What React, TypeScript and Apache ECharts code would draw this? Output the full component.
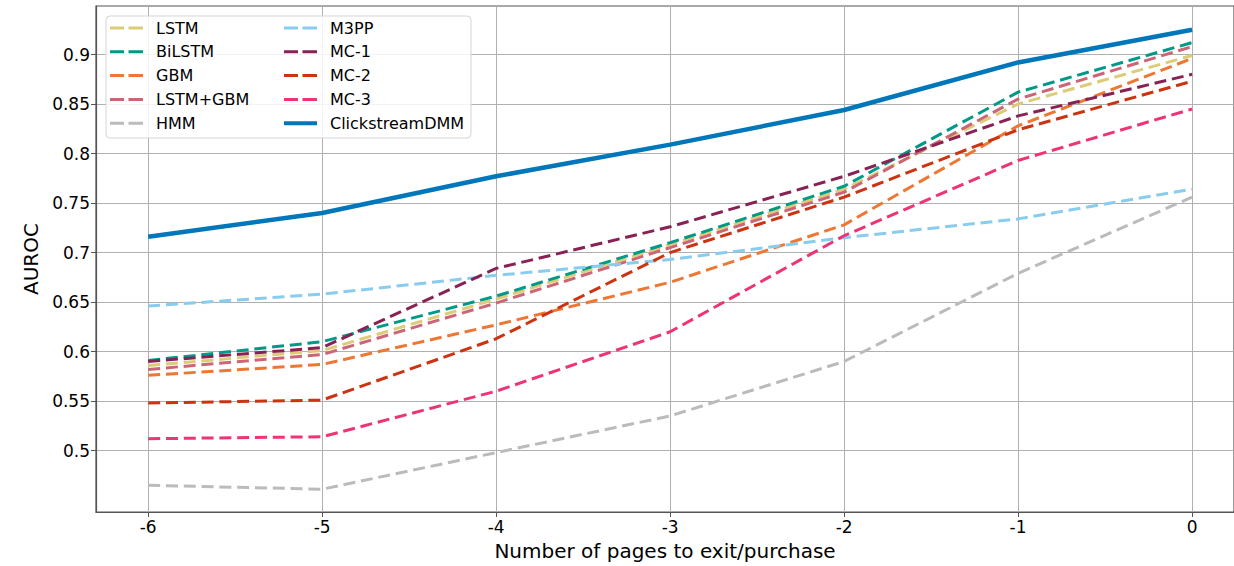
import React, { useEffect, useRef } from "react";
import * as echarts from "echarts";

const xValues = [-6, -5, -4, -3, -2, -1, 0];
const yTicks = [0.5, 0.55, 0.6, 0.65, 0.7, 0.75, 0.8, 0.85, 0.9];

const seriesNames = ["LSTM", "BiLSTM", "GBM", "LSTM+GBM", "HMM", "M3PP", "MC-1", "MC-2", "MC-3", "ClickstreamDMM"];
const lstm = [0.586, 0.601, 0.653, 0.708, 0.764, 0.850, 0.899];
const bilstm = [0.591, 0.610, 0.656, 0.710, 0.767, 0.862, 0.912];
const gbm = [0.576, 0.587, 0.627, 0.670, 0.728, 0.828, 0.896];
const lstmGbm = [0.582, 0.597, 0.649, 0.705, 0.761, 0.855, 0.908];
const hmm = [0.465, 0.461, 0.498, 0.535, 0.590, 0.679, 0.756];
const m3pp = [0.646, 0.658, 0.677, 0.693, 0.715, 0.734, 0.764];
const mc1 = [0.590, 0.604, 0.684, 0.726, 0.777, 0.838, 0.880];
const mc2 = [0.548, 0.551, 0.613, 0.700, 0.756, 0.824, 0.873];
const mc3 = [0.512, 0.514, 0.560, 0.620, 0.717, 0.793, 0.845];
const clickstreamDmm = [0.716, 0.740, 0.777, 0.809, 0.844, 0.892, 0.925];

const seriesValues = [lstm, bilstm, gbm, lstmGbm, hmm, m3pp, mc1, mc2, mc3, clickstreamDmm];
const colors = ["#DDCC77", "#009988", "#EE7733", "#CC6677", "#BBBBBB", "#88CCEE", "#882255", "#CC3311", "#EE3377", "#0077BB"];

const FONT = "DejaVu Sans";
const DASH_ICON = "path://M0,0h14v3H0z M18.5,0h14.5v3H18.5z";
const SOLID_ICON = "path://M0,0h36v4.5H0z";

export default function App() {
  const ref = useRef<HTMLDivElement>(null);
  useEffect(() => {
    document.body.style.margin = "0";
    if (!ref.current) return;
    const chart = echarts.init(ref.current, undefined, { renderer: "svg" });
    const series = seriesNames.map((name, i) => {
      const solid = name === "ClickstreamDMM";
      return {
        name,
        type: "line",
        data: xValues.map((x, j) => [x, seriesValues[i][j]]),
        symbol: "none",
        color: colors[i],
        lineStyle: {
          color: colors[i],
          width: solid ? 4.5 : 3,
          type: solid ? "solid" : [12, 5.8],
          cap: "butt",
        },
        z: 2 + i * 0.01,
      };
    });
    const legendItems = seriesNames.map((name) => ({
      name,
      icon: name === "ClickstreamDMM" ? SOLID_ICON : DASH_ICON,
    }));
    const legendCommon = {
      orient: "vertical",
      top: 20,
      itemWidth: 33,
      itemHeight: 14,
      itemGap: 7.8,
      z: 20,
      padding: 0,
      textStyle: { fontFamily: FONT, fontSize: 16, color: "#000", padding: [0, 0, 0, 8] },
      selectedMode: false,
    };
    chart.setOption({
      animation: false,
      backgroundColor: "#fff",
      grid: {
        left: 96,
        top: 6,
        right: 0,
        height: 507,
        show: true,
        borderColor: "#555",
        borderWidth: 1.2,
        backgroundColor: "transparent",
      },
      xAxis: {
        type: "value",
        min: -6.3,
        max: 0.241,
        name: "Number of pages to exit/purchase",
        nameLocation: "middle",
        nameGap: 29,
        nameTextStyle: { fontFamily: FONT, fontSize: 20, color: "#000" },
        axisLine: { show: true, onZero: false, lineStyle: { color: "#555", width: 1.2 } },
        axisTick: { show: true, length: 5, lineStyle: { color: "#555" }, customValues: xValues },
        axisLabel: { fontFamily: FONT, fontSize: 17, color: "#000", margin: 6, customValues: xValues },
        splitLine: { show: true, lineStyle: { color: "#b0b0b0", width: 1 } },
      },
      yAxis: {
        type: "value",
        min: 0.438,
        max: 0.949,
        name: "AUROC",
        nameLocation: "middle",
        nameGap: 52,
        nameRotate: 90,
        nameTextStyle: { fontFamily: FONT, fontSize: 20, color: "#000" },
        axisLine: { show: true, onZero: false, lineStyle: { color: "#555", width: 1.2 } },
        axisTick: { show: true, length: 5, lineStyle: { color: "#555" }, customValues: yTicks },
        axisLabel: { fontFamily: FONT, fontSize: 17, color: "#000", margin: 6, customValues: yTicks },
        splitLine: { show: true, lineStyle: { color: "#b0b0b0", width: 1 } },
      },
      legend: [
        { ...legendCommon, left: 110, data: legendItems.slice(0, 5) },
        { ...legendCommon, left: 284, data: legendItems.slice(5) },
      ],
      graphic: [
        {
          type: "rect",
          z: 15,
          shape: { x: 106, y: 16, width: 365, height: 122, r: 4 },
          style: { fill: "rgba(255,255,255,0.85)", stroke: "#d5d5d5", lineWidth: 1 },
        },
      ],
      series,
    });
    return () => chart.dispose();
  }, []);
  return <div ref={ref} style={{ width: 1234, height: 566 }} />;
}
